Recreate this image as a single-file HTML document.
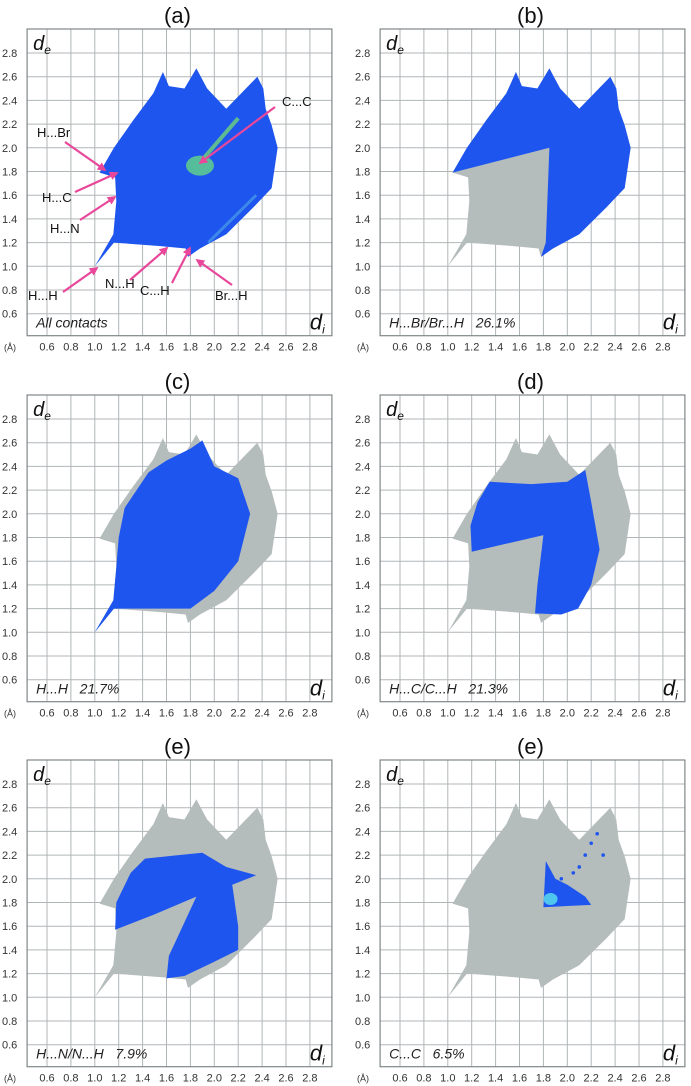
<!DOCTYPE html>
<html><head><meta charset="utf-8">
<style>
html,body{margin:0;padding:0;background:#fff;}
svg{display:block;font-family:"Liberation Sans",sans-serif;}
</style></head>
<body>
<svg id="fig" width="691" height="1086" viewBox="0 0 691 1086" xmlns="http://www.w3.org/2000/svg"></svg>
<script>
const ticks = [0.6,0.8,1.0,1.2,1.4,1.6,1.8,2.0,2.2,2.4,2.6,2.8];
const tickLabels = ["0.6","0.8","1.0","1.2","1.4","1.6","1.8","2.0","2.2","2.4","2.6","2.8"];
const panelTitles = ["(a)","(b)","(c)","(d)","(e)","(e)"];
const panelCaptions = ["All contacts","H...Br/Br...H   26.1%","H...H   21.7%","H...C/C...H   21.3%","H...N/N...H   7.9%","C...C   6.5%"];
const outlineX = [1.0,1.16,1.55,1.76,1.78,1.88,2.1,2.33,2.48,2.53,2.48,2.43,2.41,2.36,2.1,1.94,1.85,1.75,1.62,1.57,1.49,1.32,1.16,1.04,1.17,1.18,1.155];
const outlineY = [1.0,1.2,1.17,1.15,1.08,1.15,1.27,1.5,1.66,2.0,2.19,2.33,2.5,2.6,2.33,2.5,2.67,2.5,2.52,2.64,2.46,2.23,2.0,1.79,1.75,1.55,1.27];
const bX = [1.04,1.85,1.82,1.78,1.88,2.1,2.33,2.48,2.53,2.48,2.43,2.41,2.36,2.1,1.94,1.85,1.75,1.62,1.57,1.49,1.32,1.16];
const bY = [1.79,2.0,1.2,1.08,1.15,1.27,1.5,1.66,2.0,2.19,2.33,2.5,2.6,2.33,2.5,2.67,2.5,2.52,2.64,2.46,2.23,2.0];
const cX = [1.0,1.16,1.55,1.8,2.0,2.2,2.3,2.2,2.0,1.9,1.8,1.6,1.45,1.25,1.2,1.18,1.155];
const cY = [1.0,1.2,1.2,1.2,1.35,1.6,2.0,2.3,2.4,2.62,2.55,2.45,2.35,2.05,1.8,1.55,1.27];
const dX = [1.2,1.19,1.25,1.35,1.7,2.0,2.15,2.2,2.27,2.2,2.09,1.95,1.73,1.75,1.8,1.5];
const dY = [1.68,1.9,2.1,2.27,2.25,2.27,2.37,2.1,1.7,1.4,1.2,1.15,1.16,1.4,1.82,1.75];
const eX = [1.17,1.18,1.3,1.42,1.7,1.9,2.1,2.35,2.15,2.2,2.2,2.0,1.75,1.6,1.62,1.85,1.5];
const eY = [1.57,1.8,2.05,2.17,2.2,2.22,2.1,2.03,1.95,1.6,1.4,1.3,1.18,1.16,1.35,1.85,1.7];
const fX = [1.8,1.82,1.9,2.0,2.15,2.2,2.0];
const fY = [1.76,2.15,2.0,1.95,1.85,1.78,1.77];
const fStreakX = [1.95,2.05,2.1,2.15,2.2,2.25,2.3];
const fStreakY = [2.0,2.05,2.1,2.2,2.3,2.38,2.2];

const NS="http://www.w3.org/2000/svg";
const svg=document.getElementById('fig');
function mk(tag,attrs,parent){const e=document.createElementNS(NS,tag);for(const k in attrs)e.setAttribute(k,attrs[k]);(parent||svg).appendChild(e);return e;}
const colOff=[0,353], rowOff=[0,366,731];
const BLUE="#1e55ee", GREY="#b5bcbc";

for(let p=0;p<6;p++){
  const ox=colOff[p%2], oy=rowOff[Math.floor(p/2)];
  const X=v=>47+ox+(v-0.6)*119.5;
  const Y=v=>53+oy-(v-2.8)*118.5;
  const g=mk('g',{});
  
  
  const left=X(0.4)+4, top=Y(2.8)-24, right=X(2.8)+22, bottom=Y(0.6)+22;
  const t=mk('text',{x:(left+right)/2-2,y:top-6,'font-size':22,'text-anchor':'middle',fill:'#111'},g);
  t.textContent=panelTitles[p];
  
  
  ticks.forEach((v,i)=>{
    const vl=mk('line',{x1:X(v),x2:X(v),y1:top,y2:bottom,stroke:'#b0b6b8','stroke-width':1},g);
    
    
    const hl=mk('line',{x1:left,x2:right,y1:Y(v),y2:Y(v),stroke:'#b0b6b8','stroke-width':1},g);
    
    
    const yl=mk('text',{x:ox+2,y:Y(v)+4,'font-size':11,fill:'#333'},g);
    yl.textContent=tickLabels[i];
    
    
    const xl=mk('text',{x:X(v),y:bottom+15,'font-size':11,fill:'#333','text-anchor':'middle'},g);
    xl.textContent=tickLabels[i];
    
    
  });
  const unit=mk('text',{x:ox+4,y:bottom+15,'font-size':9,fill:'#333'},g);
  unit.textContent='(Å)';
  
  
  const pts=(xs,ys)=>xs.map((x,i)=>X(x)+','+Y(ys[i])).join(' ');
  const base=mk('polygon',{points:pts(outlineX,outlineY),fill:p===0?BLUE:GREY},g);
  
  
  const sets=[null,[bX,bY],[cX,cY],[dX,dY],[eX,eY],[fX,fY]];
  if(sets[p]){
    const r=mk('polygon',{points:pts(sets[p][0],sets[p][1]),fill:BLUE},g);
    
    
  }
  if(p===0){
    const gs=mk('ellipse',{cx:X(1.88),cy:Y(1.85),rx:14,ry:10,fill:'#5fd08a',opacity:0.85},g);
    
    
    const st=mk('line',{x1:X(1.9),y1:Y(1.9),x2:X(2.2),y2:Y(2.25),stroke:'#6fd47a','stroke-width':4,opacity:0.8},g);
    
    
    const br=mk('line',{x1:X(1.95),y1:Y(1.2),x2:X(2.35),y2:Y(1.6),stroke:'#4aa0e8','stroke-width':3,opacity:0.7},g);
    
    
  }
  if(p===5){
    const cy=mk('ellipse',{cx:X(1.86),cy:Y(1.83),rx:7,ry:6,fill:'#4fc6ee'},g);
    
    
    fStreakX.forEach((x,i)=>{
      const d=mk('circle',{cx:X(x),cy:Y(fStreakY[i]),r:1.8,fill:BLUE},g);
      
      
    });
  }
  const box=mk('rect',{x:left,y:top,width:right-left,height:bottom-top,fill:'none',stroke:'#7f8789','stroke-width':1.2},g);
  
  
  const de=mk('text',{x:left+6,y:top+21,'font-size':20,'font-style':'italic',fill:'#111'},g);
  de.innerHTML='d<tspan font-size="12" dy="4">e</tspan>';
  
  
  const di=mk('text',{x:right-22,y:bottom-6,'font-size':22,'font-style':'italic',fill:'#111'},g);
  di.innerHTML='d<tspan font-size="12" dy="4">i</tspan>';
  
  
  const cap=mk('text',{x:left+9,y:bottom-8,'font-size':14,'font-style':'italic',fill:'#222','xml:space':'preserve'},g);
  cap.setAttribute('style','white-space:pre');
  cap.textContent=panelCaptions[p];
  
  
}

// annotations panel (a)
const annText=["H...Br","C...C","H...C","H...N","H...H","N...H","C...H","Br...H"];
const annTx=[37,282,42,50,28,105,140,215];
const annTy=[137,106,202,233,300,288,295,300];
const arrFrom=[[65,142],[275,107],[75,192],[80,220],[63,292],[130,280],[172,283],[232,285]];
const arrTo=[[105,170],[200,163],[117,173],[115,197],[97,268],[167,248],[190,248],[197,260]];
mk('defs',{}).innerHTML='<marker id="ah" viewBox="0 0 10 10" refX="8" refY="5" markerWidth="4" markerHeight="4" orient="auto"><path d="M0,0 L10,5 L0,10 z" fill="#e8479a"/></marker>';
annText.forEach((s,i)=>{
  const a=mk('line',{x1:arrFrom[i][0],y1:arrFrom[i][1],x2:arrTo[i][0],y2:arrTo[i][1],stroke:'#e8479a','stroke-width':2.2,'marker-end':'url(#ah)'});
  
  
  const t=mk('text',{x:annTx[i],y:annTy[i],'font-size':13,fill:'#111'});
  t.textContent=s;
  
  
});
</script>
</body></html>
